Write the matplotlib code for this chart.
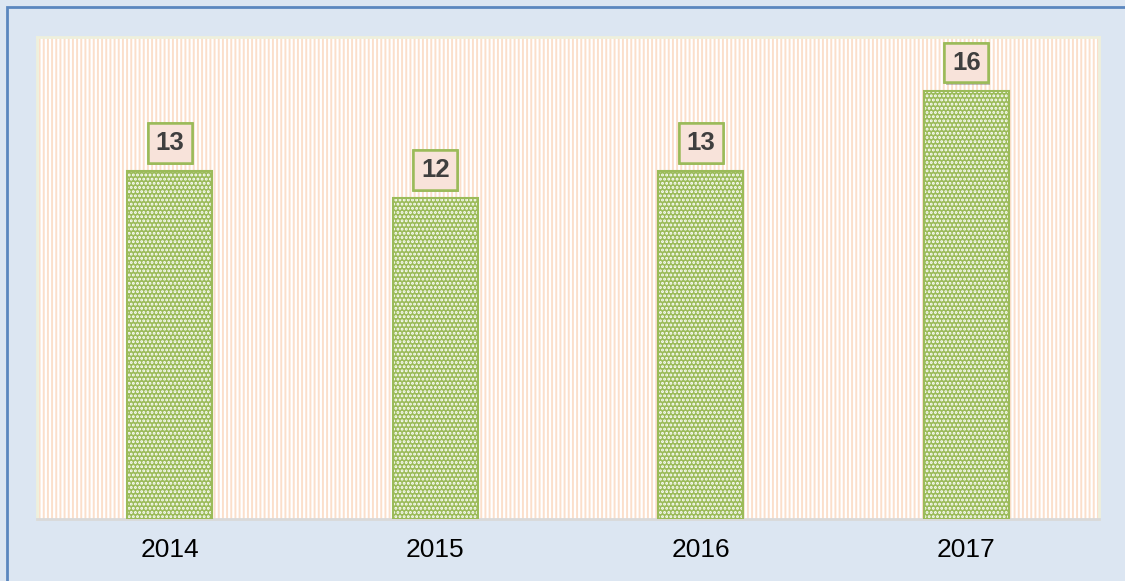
import matplotlib
matplotlib.use("Agg")
import matplotlib.pyplot as plt
import matplotlib.patheffects as pe
from matplotlib.patches import Rectangle

plt.rcParams['font.family'] = ['Liberation Sans', 'DejaVu Sans']
plt.rcParams['hatch.linewidth'] = 1.4

years = ['2014', '2015', '2016', '2017']
values = [13, 12, 13, 16]

bar_green = '#9BBB59'
bg_blue = '#DCE6F2'

fig = plt.figure(figsize=(11.25, 5.81), dpi=100, facecolor=bg_blue)
ax = fig.add_axes([37/1125, 1 - 519/581, (1099 - 37)/1125, (519 - 37)/581])

# striped plot area
ax.set_facecolor('white')
ax.patch.set_hatch('||||')
ax.patch.set_edgecolor('#FBDFCB')

# outer frame (only left and top edges visible in the picture)
fig.patches.append(Rectangle((7/1125, -0.1), 1.2, 1 - 7/581 + 0.1,
                             transform=fig.transFigure, fill=False,
                             edgecolor='#5B87BF', linewidth=2, zorder=0))

x = range(len(years))
ax.bar(x, values, width=0.32, color=bar_green, edgecolor=bar_green,
       linewidth=1.2, zorder=2)
# white dot pattern over the bars
ax.bar(x, values, width=0.32, color='none', edgecolor='white',
       hatch='....', linewidth=0, zorder=3)
ax.bar(x, values, width=0.32, color='none', edgecolor=bar_green,
       linewidth=1.5, zorder=4)

for xi, v in zip(x, values):
    t = ax.annotate(str(v), (xi, v), xytext=(0, 20), textcoords='offset points',
                    ha='center', va='center', fontsize=18.5, fontweight='bold',
                    color='#3F3F3F', zorder=5,
                    bbox=dict(boxstyle='square,pad=0.3', facecolor='#F8E3DA',
                              edgecolor=bar_green, linewidth=1.8))
    t.get_bbox_patch().set_path_effects(
        [pe.withSimplePatchShadow(offset=(1, -1.5), shadow_rgbFace='#777777', alpha=0.45),
         pe.Normal()])

ax.set_xlim(-0.5, 3.5)
ax.set_ylim(0, 18)
ax.set_yticks([])
ax.set_xticks(list(x))
ax.set_xticklabels(years, fontsize=19, color='#000000')
ax.tick_params(axis='x', length=0, pad=14)

for s in ['top', 'left', 'right']:
    ax.spines[s].set_color('#EEF0DC')
    ax.spines[s].set_linewidth(2)
ax.spines['bottom'].set_color('#D9D9D9')
ax.spines['bottom'].set_linewidth(2)

fig.savefig('out.png', dpi=100, facecolor=bg_blue)
